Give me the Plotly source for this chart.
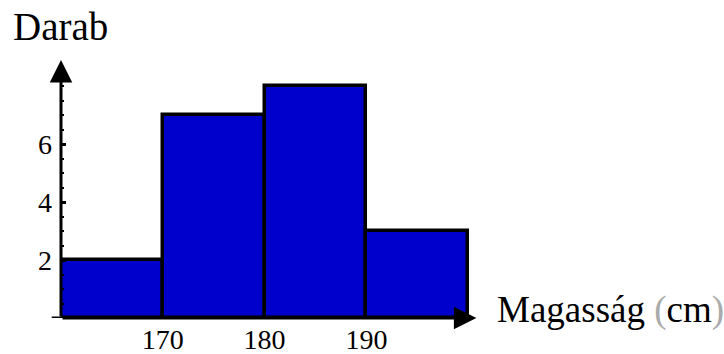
import plotly.graph_objects as go

bin_centers = [165, 175, 185, 195]
counts = [2, 7, 8, 3]
x_ticks = [170, 180, 190]
y_ticks = [2, 4, 6]
x_title = "Magasság <span style='color:#aaaaaa'>(</span>cm<span style='color:#aaaaaa'>)</span>"
y_title = "Darab"

FONT = "Liberation Serif"

fig = go.Figure()
fig.add_trace(go.Bar(
    x=bin_centers, y=counts, width=10,
    marker=dict(color="#0000CC", line=dict(color="black", width=3.5)),
))

X0, X1 = 160, 201.65
Y0, Y1 = 0, 8.9

fig.update_layout(
    width=724, height=354,
    margin=dict(l=61, r=239, t=60, b=36),
    plot_bgcolor="white", paper_bgcolor="white",
    showlegend=False,
    xaxis=dict(range=[X0, X1], tickvals=x_ticks, showgrid=False, zeroline=False,
               showline=False, ticks="", ticklabelstandoff=2, automargin=False,
               tickfont=dict(family=FONT, size=28, color="black")),
    yaxis=dict(range=[Y0, Y1], tickvals=y_ticks, showgrid=False, zeroline=False,
               showline=False, ticks="inside", ticklen=5, tickwidth=3, tickcolor="black",
               ticklabelstandoff=8, automargin=False,
               minor=dict(ticks="inside", dtick=0.5, ticklen=3, tickwidth=2, tickcolor="black"),
               tickfont=dict(family=FONT, size=28, color="black")),
    bargap=0,
)

# tick at zero extending left
fig.add_shape(type="line", xref="paper", yref="y", x0=-0.022, x1=0, y0=0, y1=0,
              line=dict(color="black", width=3))

# axes with arrows
fig.add_annotation(x=200.8, y=0, ax=160, ay=0, xref="x", yref="y", axref="x", ayref="y",
                   showarrow=True, arrowhead=2, arrowsize=1.5, arrowwidth=3, arrowcolor="black", text="")
fig.add_annotation(x=160, y=8.9, ax=160, ay=0, xref="x", yref="y", axref="x", ayref="y",
                   showarrow=True, arrowhead=2, arrowsize=1.5, arrowwidth=3, arrowcolor="black", text="")

fig.add_annotation(text=y_title, xref="paper", yref="paper", x=-0.117, y=1.13,
                   xanchor="left", yanchor="middle", showarrow=False,
                   font=dict(family=FONT, size=39, color="black"))
fig.add_annotation(text=x_title, xref="paper", yref="paper", x=1.024, y=0.03,
                   xanchor="left", yanchor="middle", showarrow=False,
                   font=dict(family=FONT, size=37, color="black"))

fig.write_html("out.html", config={"displayModeBar": False},
               post_script="document.body.style.margin='0';")
